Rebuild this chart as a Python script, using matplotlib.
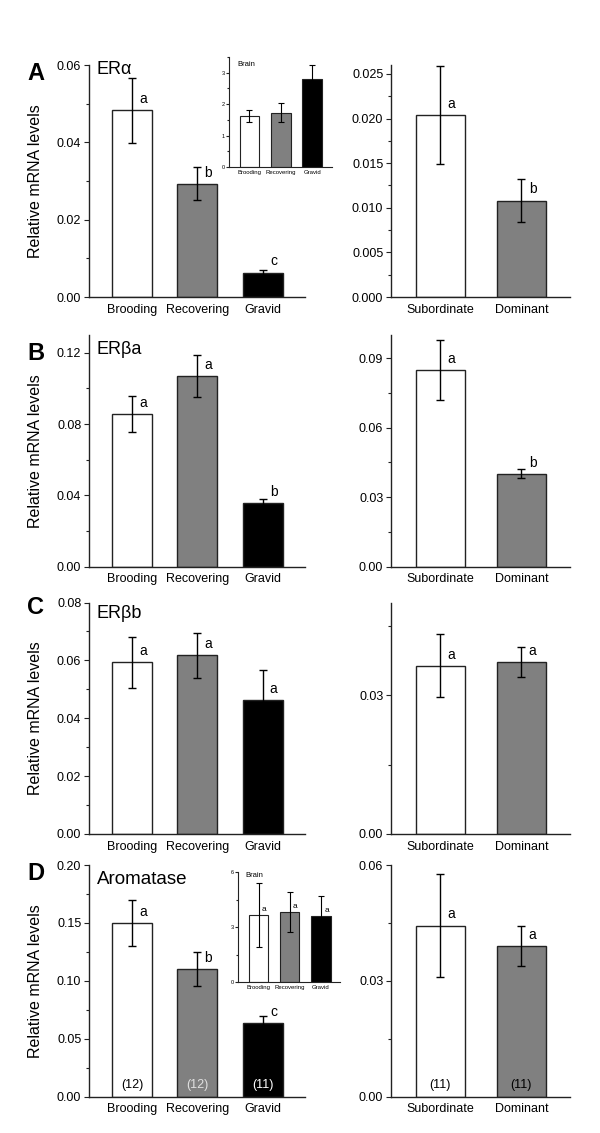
import matplotlib
matplotlib.use("Agg")
import matplotlib.pyplot as plt
from matplotlib.ticker import MultipleLocator, FormatStrFormatter

plt.rcParams['font.family'] = ['Liberation Sans', 'DejaVu Sans']

# ---------------- data ----------------
stages = ["Brooding", "Recovering", "Gravid"]
status = ["Subordinate", "Dominant"]
stage_colors = ["white", "#808080", "black"]
status_colors = ["white", "#808080"]

era_stage = [0.0483, 0.0293, 0.0063]
era_stage_err = [0.0084, 0.0042, 0.0007]
era_stage_let = ["a", "b", "c"]
era_status = [0.0204, 0.0108]
era_status_err = [0.0055, 0.0024]
era_status_let = ["a", "b"]
era_brain = [1.62, 1.73, 2.81]
era_brain_err = [0.20, 0.31, 0.45]

erba_stage = [0.0857, 0.1068, 0.0358]
erba_stage_err = [0.0101, 0.0117, 0.0019]
erba_stage_let = ["a", "a", "b"]
erba_status = [0.0848, 0.0401]
erba_status_err = [0.0130, 0.0019]
erba_status_let = ["a", "b"]

erbb_stage = [0.0594, 0.0617, 0.0464]
erbb_stage_err = [0.0088, 0.0077, 0.0104]
erbb_stage_let = ["a", "a", "a"]
erbb_status = [0.0363, 0.0371]
erbb_status_err = [0.0068, 0.0032]
erbb_status_let = ["a", "a"]

aro_stage = [0.1499, 0.1101, 0.0637]
aro_stage_err = [0.0200, 0.0150, 0.0055]
aro_stage_let = ["a", "b", "c"]
aro_status = [0.0443, 0.0390]
aro_status_err = [0.0133, 0.0053]
aro_status_let = ["a", "a"]
aro_brain = [3.67, 3.82, 3.62]
aro_brain_err = [1.73, 1.07, 1.09]
aro_brain_let = ["a", "a", "a"]

n_stage = ["(12)", "(12)", "(11)"]
n_stage_colors = ["black", "#e0e0e0", "white"]
n_status = ["(11)", "(11)"]
n_status_colors = ["black", "black"]

# ---------------- figure ----------------
W, H = 600, 1133
fig = plt.figure(figsize=(W / 100, H / 100), dpi=100)


def px_axes(x0, x1, ytop, ybot):
    return fig.add_axes([x0 / W, 1 - ybot / H, (x1 - x0) / W, (ybot - ytop) / H])


def style(ax, ymax, major, minor, fmt, tick_fs=9, lw=1.0, maj_len=3.5, min_len=2, xpad=5):
    for s in ["top", "right"]:
        ax.spines[s].set_visible(False)
    for s in ["left", "bottom"]:
        ax.spines[s].set_linewidth(lw)
        ax.spines[s].set_color("#222222")
    ax.set_ylim(0, ymax)
    ax.yaxis.set_major_locator(MultipleLocator(major))
    ax.yaxis.set_minor_locator(MultipleLocator(minor))
    ax.yaxis.set_major_formatter(FormatStrFormatter(fmt))
    ax.tick_params(axis="y", which="major", direction="out", length=maj_len,
                   width=0.8, labelsize=tick_fs, pad=2, color="#222222")
    ax.tick_params(axis="y", which="minor", direction="out", length=min_len,
                   width=0.8, color="#222222")
    ax.tick_params(axis="x", which="both", length=0, labelsize=tick_fs, pad=xpad)


def bars(ax, labels, vals, errs, colors, width, capsize=3, elw=1.0, edge_lw=1.0):
    x = list(range(len(labels)))
    ax.bar(x, vals, width=width, color=colors, edgecolor="#222222",
           linewidth=edge_lw, zorder=2)
    ax.errorbar(x, vals, yerr=errs, fmt="none", ecolor="black",
                elinewidth=elw, capsize=capsize, capthick=elw, zorder=3)
    ax.set_xticks(x)
    ax.set_xticklabels(labels)
    return x


def letters(ax, vals, lets, fs=10, dx=8, dy=3):
    for i, (v, l) in enumerate(zip(vals, lets)):
        ax.annotate(l, (i, v), xytext=(dx, dy), textcoords="offset points",
                    ha="center", va="bottom", fontsize=fs)


def nlabels(ax, labs, cols, fs=9):
    for i, (l, c) in enumerate(zip(labs, cols)):
        ax.annotate(l, (i, 0), xytext=(0, 8), textcoords="offset points",
                    ha="center", va="center", fontsize=fs, color=c)


LX0, LX1 = 89, 305
RX0, RX1 = 391, 570
rows = [(65, 297), (335, 566.5), (602.5, 834), (865, 1096.5)]
left_ylim = [(0.06, 0.02, 0.01, "%.2f"), (0.13, 0.04, 0.02, "%.2f"),
             (0.08, 0.02, 0.01, "%.2f"), (0.20, 0.05, 0.025, "%.2f")]
right_ylim = [(0.026, 0.005, 0.0025, "%.3f"), (0.10, 0.03, 0.015, "%.2f"),
              (0.05, 0.03, 0.015, "%.2f"), (0.06, 0.03, 0.015, "%.2f")]
stage_data = [(era_stage, era_stage_err, era_stage_let),
              (erba_stage, erba_stage_err, erba_stage_let),
              (erbb_stage, erbb_stage_err, erbb_stage_let),
              (aro_stage, aro_stage_err, aro_stage_let)]
status_data = [(era_status, era_status_err, era_status_let),
               (erba_status, erba_status_err, erba_status_let),
               (erbb_status, erbb_status_err, erbb_status_let),
               (aro_status, aro_status_err, aro_status_let)]
titles = ["ERα", "ERβa", "ERβb", "Aromatase"]
title_fs = [13, 13, 13, 13.5]
title_y = [70, 350, 613, 880]
panel_letters = ["A", "B", "C", "D"]
panel_letter_y = [73, 353, 608, 873]

for r in range(4):
    ytop, ybot = rows[r]
    axl = px_axes(LX0, LX1, ytop, ybot)
    ymax, maj, mnr, fmt = left_ylim[r]
    style(axl, ymax, maj, mnr, fmt)
    v, e, l = stage_data[r]
    bars(axl, stages, v, e, stage_colors, width=0.615)
    axl.set_xlim(-0.66, 2.65)
    letters(axl, v, l)
    axl.set_ylabel("Relative mRNA levels", fontsize=11.5)
    axl.yaxis.set_label_coords(-0.212, 0.5)
    axl.text((97 - LX0) / (LX1 - LX0), (ybot - title_y[r]) / (ybot - ytop),
             titles[r], transform=axl.transAxes, ha="left", va="center",
             fontsize=title_fs[r])
    fig.text(27 / W, 1 - panel_letter_y[r] / H, panel_letters[r],
             fontsize=17, fontweight="bold", ha="left", va="center")

    axr = px_axes(RX0, RX1, ytop, ybot)
    ymax, maj, mnr, fmt = right_ylim[r]
    style(axr, ymax, maj, mnr, fmt)
    v, e, l = status_data[r]
    bars(axr, status, v, e, status_colors, width=0.6)
    axr.set_xlim(-0.61, 1.6)
    letters(axr, v, l)

    if r == 3:
        nlabels(axl, n_stage, n_stage_colors)
        nlabels(axr, n_status, n_status_colors)

# ---------------- insets ----------------
axi = px_axes(229, 332, 57, 167)
style(axi, 3.5, 1, 0.5, "%d", tick_fs=4, lw=0.8, maj_len=2, min_len=1.2, xpad=2)
bars(axi, stages, era_brain, era_brain_err, stage_colors, width=0.62,
     capsize=2, elw=0.8, edge_lw=0.8)
axi.set_xlim(-0.65, 2.63)
axi.tick_params(axis="x", labelsize=4.3)
axi.tick_params(axis="y", pad=1)
axi.text(0.08, 0.96, "Brain", transform=axi.transAxes, fontsize=5.5,
         ha="left", va="top")

axd = px_axes(238, 340, 872, 982.3)
style(axd, 6, 3, 1.5, "%d", tick_fs=4, lw=0.8, maj_len=2, min_len=1.2, xpad=2)
bars(axd, stages, aro_brain, aro_brain_err, stage_colors, width=0.62,
     capsize=2, elw=0.8, edge_lw=0.8)
axd.set_xlim(-0.66, 2.61)
axd.tick_params(axis="x", labelsize=4.3)
axd.tick_params(axis="y", pad=1)
letters(axd, aro_brain, aro_brain_let, fs=6, dx=4, dy=1.5)
axd.text(0.07, 1.0, "Brain", transform=axd.transAxes, fontsize=5.5,
         ha="left", va="top")

fig.savefig("out.png", dpi=100)
